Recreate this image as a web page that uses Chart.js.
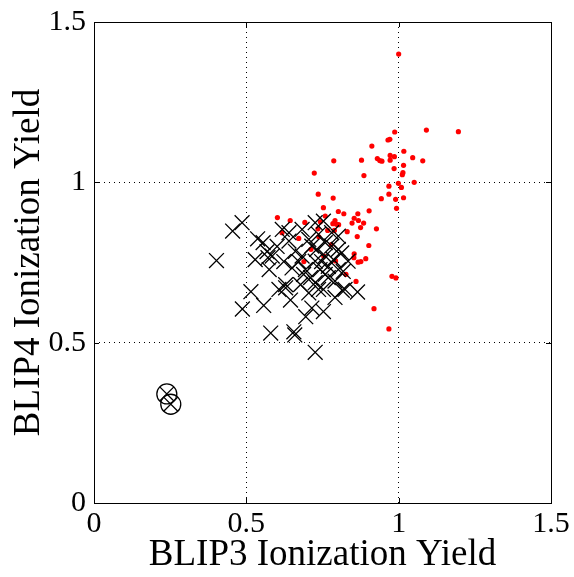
<!DOCTYPE html>
<html>
<head>
    <title>BLIP Ionization Yield</title>
    <script src="https://cdn.jsdelivr.net/npm/chart.js"></script>
    <style>
        body { margin: 0; background: #fff; }
        #wrap { width: 574px; height: 577px; }
    </style>
</head>
<body>
<div id="wrap"><canvas id="chart" width="574" height="577"></canvas></div>
<script>
// red dots (BLIP3, BLIP4)
var redX = [1.000, 1.091, 1.196, 0.987, 0.971, 0.965, 0.912, 1.017, 0.787, 0.878,
            0.930, 0.938, 0.945, 0.972, 0.986, 0.972, 1.046, 1.079, 0.723, 0.886,
            0.985, 1.016, 1.014, 1.012, 0.999, 1.051, 1.009, 0.968, 0.736, 0.785,
            0.968, 0.943, 0.990, 1.016, 0.753, 0.993, 0.759, 0.802, 0.820, 0.866,
            0.903, 0.854, 0.602, 0.644, 0.692, 0.743, 0.791, 0.796, 0.784, 0.803,
            0.847, 0.868, 0.885, 0.875, 0.927, 0.617, 0.735, 0.767, 0.789, 0.831,
            0.864, 0.672, 0.738, 0.779, 0.902, 0.712, 0.754, 0.854, 0.853, 0.892,
            0.876, 0.867, 0.689, 0.793, 0.827, 0.860, 0.919, 0.968, 0.978, 0.991];
var redY = [1.400, 1.163, 1.158, 1.157, 1.134, 1.132, 1.113, 1.097, 1.067, 1.069,
            1.074, 1.068, 1.066, 1.084, 1.080, 1.069, 1.077, 1.067, 1.029, 1.021,
            1.043, 1.053, 1.030, 1.024, 0.997, 1.000, 0.984, 0.988, 0.963, 0.951,
            0.963, 0.949, 0.947, 0.952, 0.921, 0.919, 0.895, 0.909, 0.902, 0.902,
            0.911, 0.888, 0.890, 0.881, 0.875, 0.877, 0.881, 0.869, 0.871, 0.868,
            0.873, 0.881, 0.873, 0.859, 0.855, 0.843, 0.855, 0.850, 0.850, 0.846,
            0.831, 0.825, 0.830, 0.806, 0.803, 0.791, 0.770, 0.777, 0.765, 0.762,
            0.753, 0.751, 0.753, 0.755, 0.713, 0.691, 0.606, 0.543, 0.707, 0.702];

// black crosses
var crossX = [0.486, 0.455, 0.537, 0.555, 0.402, 0.529, 0.571, 0.515, 0.557, 0.487,
              0.607, 0.645, 0.580, 0.656, 0.659, 0.726, 0.695, 0.715, 0.753, 0.791,
              0.815, 0.865, 0.629, 0.585, 0.640, 0.618, 0.683, 0.726, 0.737, 0.661,
              0.650, 0.629, 0.678, 0.694, 0.726, 0.759, 0.780, 0.802, 0.780, 0.813,
              0.834, 0.759, 0.726, 0.791, 0.824, 0.753, 0.705, 0.683, 0.715, 0.759,
              0.802, 0.742, 0.769, 0.753, 0.640, 0.601, 0.568, 0.705, 0.731, 0.747,
              0.672, 0.711, 0.769, 0.818, 0.786, 0.623, 0.575, 0.688, 0.737, 0.802];
var crossY = [0.874, 0.848, 0.824, 0.812, 0.756, 0.759, 0.765, 0.659, 0.616, 0.605,
              0.666, 0.633, 0.530, 0.534, 0.524, 0.470, 0.581, 0.608, 0.597, 0.641,
              0.663, 0.658, 0.671, 0.770, 0.817, 0.853, 0.853, 0.874, 0.838, 0.785,
              0.733, 0.681, 0.681, 0.728, 0.754, 0.770, 0.801, 0.832, 0.843, 0.780,
              0.754, 0.713, 0.687, 0.692, 0.666, 0.666, 0.655, 0.770, 0.801, 0.812,
              0.728, 0.728, 0.738, 0.879, 0.843, 0.800, 0.784, 0.822, 0.791, 0.753,
              0.753, 0.703, 0.703, 0.722, 0.759, 0.753, 0.728, 0.713, 0.666, 0.791];

// circled crosses
var ringX = [0.239, 0.252];
var ringY = [0.340, 0.308];

var ticks = [0, 0.5, 1, 1.5];

function pts(xs, ys) {
    return xs.map(function (x, i) { return { x: x, y: ys[i] }; });
}

var serif = "'Liberation Serif', 'DejaVu Serif', serif";

// draws the box round the plot and the small inner ticks
var frame = {
    id: 'frame',
    afterDatasetsDraw: function (chart) {
        var a = chart.chartArea, ctx = chart.ctx;
        var xs = chart.scales.x, ys = chart.scales.y;
        ctx.save();
        ctx.strokeStyle = '#000';
        ctx.lineWidth = 1;
        ctx.strokeRect(a.left + 0.5, a.top + 0.5, a.right - a.left, a.bottom - a.top);
        ctx.beginPath();
        [0.5, 1].forEach(function (v) {
            var px = Math.round(xs.getPixelForValue(v)) + 0.5;
            ctx.moveTo(px, a.bottom); ctx.lineTo(px, a.bottom - 5);
            ctx.moveTo(px, a.top); ctx.lineTo(px, a.top + 5);
            var py = Math.round(ys.getPixelForValue(v)) + 0.5;
            ctx.moveTo(a.left, py); ctx.lineTo(a.left + 5, py);
            ctx.moveTo(a.right, py); ctx.lineTo(a.right - 5, py);
        });
        ctx.stroke();
        ctx.restore();
    }
};

var gridOpts = {
    color: function (c) { return (c.tick && (c.tick.value === 0 || c.tick.value === 1.5)) ? 'rgba(0,0,0,0)' : '#000'; },
    lineWidth: 1,
    drawTicks: false
};

new Chart(document.getElementById('chart'), {
    type: 'scatter',
    data: {
        datasets: [
            {
                label: 'cross',
                data: pts(crossX, crossY),
                pointStyle: 'crossRot',
                pointRadius: 10.5,
                pointHoverRadius: 10.5,
                borderColor: '#000',
                borderWidth: 1.3,
                order: 0
            },
            {
                label: 'ring',
                data: pts(ringX, ringY),
                pointStyle: 'circle',
                pointRadius: 10,
                backgroundColor: 'rgba(0,0,0,0)',
                borderColor: '#000',
                borderWidth: 1.3,
                order: 0
            },
            {
                label: 'ringcross',
                data: pts(ringX, ringY),
                pointStyle: 'crossRot',
                pointRadius: 10,
                borderColor: '#000',
                borderWidth: 1.3,
                order: 0
            },
            {
                label: 'red',
                data: pts(redX, redY),
                pointStyle: 'circle',
                pointRadius: 2.6,
                backgroundColor: '#ff0000',
                borderColor: '#ff0000',
                borderWidth: 0,
                order: 2
            }
        ]
    },
    options: {
        responsive: false,
        animation: false,
        layout: { padding: { top: 22, right: 23, left: 0, bottom: 0 } },
        plugins: { legend: { display: false }, tooltip: { enabled: false } },
        scales: {
            x: {
                type: 'linear',
                min: 0, max: 1.5,
                afterBuildTicks: function (s) { s.ticks = ticks.map(function (v) { return { value: v }; }); },
                afterFit: function (s) { s.height = 74; s.paddingLeft = 0; s.paddingRight = 0; },
                grid: gridOpts,
                border: { display: false, dash: [1, 4] },
                ticks: {
                    color: '#000',
                    padding: 3,
                    maxRotation: 0,
                    font: { family: serif, size: 30 },
                    callback: function (v) { return String(v); }
                },
                title: {
                    display: true,
                    text: 'BLIP3 Ionization Yield',
                    color: '#000',
                    font: { family: serif, size: 37 },
                    padding: { top: 0, bottom: 0 }
                }
            },
            y: {
                type: 'linear',
                min: 0, max: 1.5,
                afterBuildTicks: function (s) { s.ticks = ticks.map(function (v) { return { value: v }; }); },
                afterFit: function (s) { s.width = 94; s.paddingTop = 0; s.paddingBottom = 0; },
                grid: gridOpts,
                border: { display: false, dash: [1, 4] },
                ticks: {
                    color: '#000',
                    padding: 8,
                    font: { family: serif, size: 30 },
                    callback: function (v) { return String(v); }
                },
                title: {
                    display: true,
                    text: 'BLIP4 Ionization Yield',
                    color: '#000',
                    font: { family: serif, size: 37 },
                    padding: { top: 7, bottom: 0 }
                }
            }
        }
    },
    plugins: [frame]
});
</script>
</body>
</html>
